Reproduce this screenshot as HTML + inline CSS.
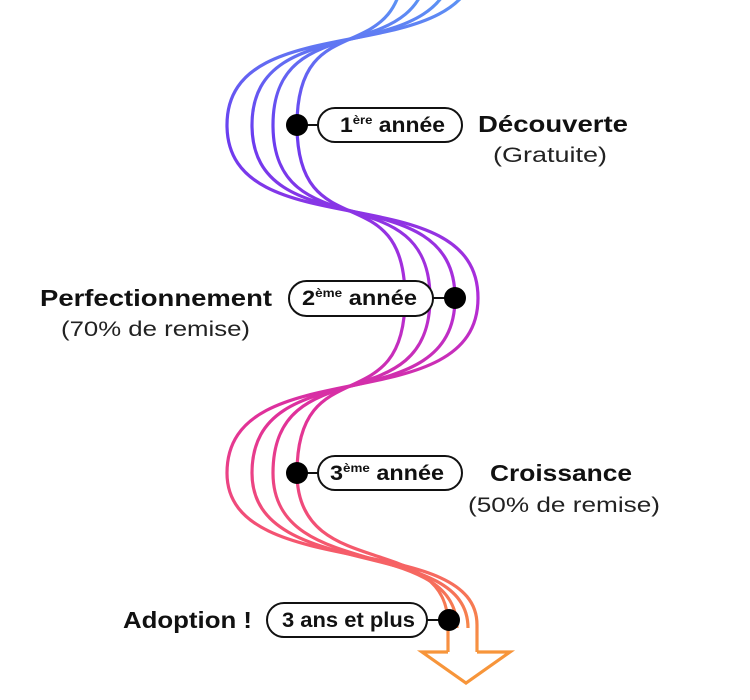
<!DOCTYPE html>
<html><head><meta charset="utf-8"><style>
html,body{margin:0;padding:0;background:#fff;}
svg{display:block;}
.b{font-family:"Liberation Sans",sans-serif;font-weight:bold;fill:#111;}
.l{font-family:"Liberation Sans",sans-serif;fill:#222;}
</style></head><body>
<svg width="750" height="700" viewBox="0 0 750 700" xmlns="http://www.w3.org/2000/svg">
<defs>
<linearGradient id="g" gradientUnits="userSpaceOnUse" x1="0" y1="0" x2="0" y2="690">
<stop offset="0" stop-color="#5c92f4"/>
<stop offset="0.2" stop-color="#6a3cf0"/>
<stop offset="0.43" stop-color="#b02cd8"/>
<stop offset="0.6" stop-color="#e0309a"/>
<stop offset="0.78" stop-color="#f55470"/>
<stop offset="0.95" stop-color="#f7963c"/>
</linearGradient>
</defs>
<g fill="none" stroke="url(#g)" stroke-width="3.2">
<path d="M478,-48 C478,77 227,0 227,125 C227,250 478,173 478,298 C478,423 227,348 227,473 C227,583 477,530 477,625 L477,652"/>
<path d="M455,-48 C455,77 252,0 252,125 C252,250 455,173 455,298 C455,423 252,348 252,473 C252,583 468,535 468,628"/>
<path d="M430,-48 C430,77 273,0 273,125 C273,250 430,173 430,298 C430,423 273,348 273,473 C273,583 457,535 457,628"/>
<path d="M405,-48 C405,77 297,0 297,125 C297,250 405,173 405,298 C405,423 297,348 297,473 C297,583 448,530 448,625 L448,652"/>
</g>
<polyline points="448,652 422,652 466,683 510,652 477,652" fill="none" stroke="#f7953a" stroke-width="3.2" stroke-linejoin="miter"/>
<g stroke="#111" stroke-width="2" fill="#fff">
<line x1="297" y1="125" x2="318" y2="125"/>
<rect x="318" y="108" width="144" height="34" rx="17"/>
<line x1="433" y1="298" x2="455" y2="298"/>
<rect x="289" y="281" width="144" height="35" rx="17.5"/>
<line x1="297" y1="473" x2="318" y2="473"/>
<rect x="318" y="456" width="144" height="34" rx="17"/>
<line x1="427" y1="620" x2="449" y2="620"/>
<rect x="267" y="603" width="160" height="34" rx="17"/>
</g>
<g fill="#000">
<circle cx="297" cy="125" r="11"/>
<circle cx="455" cy="298" r="11"/>
<circle cx="297" cy="473" r="11"/>
<circle cx="449" cy="620" r="11"/>
</g>
<g class="b" font-size="21">
<text x="340" y="132" textLength="105" lengthAdjust="spacingAndGlyphs">1<tspan font-size="12" dy="-8">ère</tspan><tspan dy="8"> année</tspan></text>
<text x="302" y="305" textLength="115" lengthAdjust="spacingAndGlyphs">2<tspan font-size="12" dy="-8">ème</tspan><tspan dy="8"> année</tspan></text>
<text x="330" y="480" textLength="114" lengthAdjust="spacingAndGlyphs">3<tspan font-size="12" dy="-8">ème</tspan><tspan dy="8"> année</tspan></text>
<text x="282" y="627" textLength="133" lengthAdjust="spacingAndGlyphs">3 ans et plus</text>
</g>
<g class="b" font-size="23">
<text x="478" y="132" textLength="150" lengthAdjust="spacingAndGlyphs">Découverte</text>
<text x="40" y="306" textLength="232" lengthAdjust="spacingAndGlyphs">Perfectionnement</text>
<text x="490" y="481" textLength="142" lengthAdjust="spacingAndGlyphs">Croissance</text>
<text x="123" y="628" textLength="129" lengthAdjust="spacingAndGlyphs">Adoption !</text>
</g>
<g class="l" font-size="21">
<text x="493" y="162" textLength="114" lengthAdjust="spacingAndGlyphs">(Gratuite)</text>
<text x="61" y="336" textLength="189" lengthAdjust="spacingAndGlyphs">(70% de remise)</text>
<text x="468" y="512" textLength="192" lengthAdjust="spacingAndGlyphs">(50% de remise)</text>
</g>
</svg>
</body></html>
